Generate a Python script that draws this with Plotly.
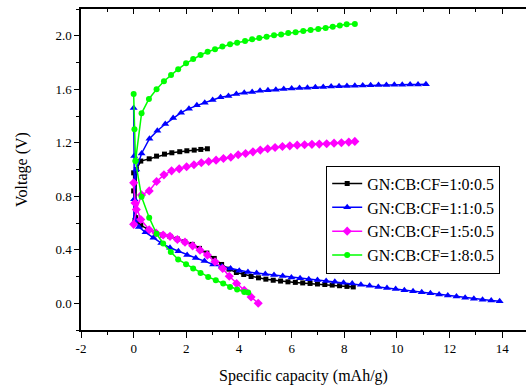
import plotly.graph_objects as go

# ---------------- data ----------------
names = ["GN:CB:CF=1:0:0.5", "GN:CB:CF=1:1:0.5", "GN:CB:CF=1:5:0.5", "GN:CB:CF=1:8:0.5"]

black_dis_x = [0, 0, 0.05, 0.27, 0.55, 0.83, 1.1, 1.38, 1.66, 1.94, 2.22, 2.5, 2.78, 3.06, 3.34, 3.62,
               3.9, 4.18, 4.46, 4.74, 5.02, 5.3, 5.58, 5.86, 6.14, 6.42, 6.7, 6.98, 7.26, 7.54, 7.82, 8.1, 8.34]
black_dis_y = [0.975, 0.84, 0.62, 0.585, 0.55, 0.525, 0.51, 0.5, 0.48, 0.46, 0.44, 0.41, 0.375, 0.335, 0.29,
               0.255, 0.23, 0.215, 0.2, 0.19, 0.18, 0.172, 0.166, 0.16, 0.156, 0.152, 0.148, 0.144, 0.14,
               0.136, 0.131, 0.126, 0.122]
black_chg_x = [0.08, 0.1, 0.27, 0.59, 0.87, 1.17, 1.45, 1.75, 2.02, 2.3, 2.55, 2.8]
black_chg_y = [0.64, 1.0, 1.063, 1.08, 1.1, 1.115, 1.125, 1.133, 1.14, 1.145, 1.15, 1.155]

blue_dis_x = [0, 0.02, 0.03, 0.08, 0.2, 0.45, 0.75, 1.05, 1.38, 1.7, 2.03, 2.36, 2.69, 3.02, 3.35, 3.68,
              4.01, 4.34, 4.67, 5.0, 5.33, 5.66, 5.99, 6.32, 6.65, 6.98, 7.31, 7.64, 7.97, 8.3, 8.63, 8.96,
              9.29, 9.62, 9.95, 10.28, 10.61, 10.94, 11.27, 11.6, 11.93, 12.26, 12.59, 12.92, 13.25, 13.58, 13.9]
blue_dis_y = [1.46, 1.1, 0.777, 0.62, 0.57, 0.53, 0.49, 0.45, 0.415, 0.388, 0.36, 0.338, 0.315, 0.29, 0.274,
              0.26, 0.243, 0.233, 0.226, 0.219, 0.211, 0.203, 0.193, 0.187, 0.18, 0.174, 0.167, 0.16, 0.154,
              0.147, 0.139, 0.131, 0.122, 0.114, 0.106, 0.098, 0.09, 0.082, 0.074, 0.066, 0.058, 0.05,
              0.041, 0.033, 0.026, 0.02, 0.015]
blue_chg_x = [0, 0.02, 0.1, 0.3, 0.6, 0.9, 1.2, 1.5, 1.8, 2.1, 2.4, 2.7, 3.0, 3.3, 3.6, 3.9, 4.2, 4.5, 4.8,
              5.1, 5.4, 5.7, 6.0, 6.3, 6.6, 6.9, 7.2, 7.5, 7.8, 8.1, 8.4, 8.7, 9.0, 9.3, 9.6, 9.9, 10.2,
              10.5, 10.8, 11.1]
blue_chg_y = [0.6, 0.777, 1.0, 1.12, 1.23, 1.29, 1.34, 1.385, 1.425, 1.455, 1.48, 1.5, 1.52, 1.54, 1.55,
              1.565, 1.573, 1.58, 1.588, 1.592, 1.597, 1.601, 1.605, 1.609, 1.612, 1.615, 1.617, 1.62,
              1.622, 1.624, 1.626, 1.628, 1.63, 1.631, 1.632, 1.633, 1.634, 1.635, 1.636, 1.637]

pink_dis_x = [0, 0.05, 0.27, 0.59, 0.85, 1.12, 1.38, 1.66, 1.95, 2.24, 2.52, 2.8, 3.09, 3.38, 3.63, 3.91,
              4.2, 4.46, 4.73]
pink_dis_y = [0.9, 0.75, 0.626, 0.55, 0.525, 0.51, 0.5, 0.477, 0.457, 0.429, 0.397, 0.36, 0.31, 0.26,
              0.202, 0.147, 0.097, 0.047, 0.0]
pink_chg_x = [0, 0.1, 0.3, 0.59, 0.87, 1.15, 1.44, 1.73, 2.01, 2.29, 2.57, 2.85, 3.13, 3.41, 3.69, 3.97,
              4.25, 4.53, 4.81, 5.09, 5.37, 5.65, 5.93, 6.21, 6.49, 6.77, 7.05, 7.33, 7.61, 7.89, 8.17, 8.4]
pink_chg_y = [0.59, 0.7, 0.81, 0.84, 0.91, 0.96, 0.99, 1.005, 1.02, 1.035, 1.05, 1.06, 1.07, 1.082, 1.092,
              1.11, 1.12, 1.132, 1.145, 1.155, 1.164, 1.172, 1.177, 1.182, 1.185, 1.188, 1.19, 1.193,
              1.197, 1.2, 1.205, 1.21]

green_dis_x = [0, 0.03, 0.07, 0.3, 0.59, 0.87, 1.12, 1.41, 1.69, 1.99, 2.26, 2.54, 2.83, 3.12, 3.4, 3.66,
               3.93, 4.2, 4.35]
green_dis_y = [1.564, 1.3, 1.063, 0.796, 0.64, 0.52, 0.447, 0.384, 0.327, 0.292, 0.26, 0.227, 0.197,
               0.172, 0.147, 0.122, 0.103, 0.085, 0.08]
green_chg_x = [0.07, 0.3, 0.58, 0.87, 1.15, 1.42, 1.69, 1.99, 2.26, 2.54, 2.81, 3.09, 3.37, 3.66, 3.93,
               4.23, 4.5, 4.77, 5.05, 5.33, 5.6, 5.87, 6.15, 6.44, 6.72, 7.01, 7.29, 7.56, 7.83, 8.09, 8.4]
green_chg_y = [1.063, 1.42, 1.527, 1.6, 1.66, 1.707, 1.75, 1.794, 1.826, 1.856, 1.88, 1.9, 1.92, 1.936,
               1.948, 1.96, 1.974, 1.984, 1.993, 2.004, 2.01, 2.02, 2.026, 2.036, 2.043, 2.05, 2.058,
               2.068, 2.076, 2.086, 2.088]

x_tick_vals = [-2, 0, 2, 4, 6, 8, 10, 12, 14]
x_tick_text = ["-2", "0", "2", "4", "6", "8", "10", "12", "14"]
y_tick_vals = [0.0, 0.4, 0.8, 1.2, 1.6, 2.0]
y_tick_text = ["0.0", "0.4", "0.8", "1.2", "1.6", "2.0"]

# ---------------- styles ----------------
series = [
    (black_dis_x, black_dis_y, black_chg_x, black_chg_y, "#000000", "square", 5),
    (blue_dis_x, blue_dis_y, blue_chg_x, blue_chg_y, "#0000ff", "triangle-up", 7),
    (pink_dis_x, pink_dis_y, pink_chg_x, pink_chg_y, "#ff00ff", "diamond", 7),
    (green_dis_x, green_dis_y, green_chg_x, green_chg_y, "#00ff00", "circle", 6),
]

FONT = "Liberation Serif"

fig = go.Figure()
for name, (dx, dy, cx, cy, col, sym, sz) in zip(names, series):
    fig.add_trace(go.Scatter(
        x=dx + [None] + cx, y=dy + [None] + cy, name=name,
        mode="lines+markers", connectgaps=False,
        line=dict(color=col, width=1.5),
        marker=dict(color=col, symbol=sym, size=sz, line=dict(width=0)),
    ))

# invisible trace to anchor the top axis
fig.add_trace(go.Scatter(x=[0], y=[0], xaxis="x2", yaxis="y", mode="markers",
                         marker=dict(opacity=0), showlegend=False, hoverinfo="skip"))

fig.update_layout(
    width=526, height=387,
    margin=dict(l=81, r=0, t=9, b=57),
    paper_bgcolor="white", plot_bgcolor="white",
    font=dict(family=FONT, color="black", size=13),
    showlegend=True,
    legend=dict(x=0.551, y=0.512, xanchor="left", yanchor="top",
                bordercolor="black", borderwidth=1, bgcolor="white",
                font=dict(family=FONT, size=16, color="black"),
                tracegroupgap=0, itemwidth=30),
    xaxis=dict(range=[-2, 14.9], tickvals=x_tick_vals, ticktext=x_tick_text,
               showgrid=False, zeroline=False, automargin=False,
               showline=True, linecolor="black", linewidth=1.5,
               ticks="outside", ticklen=6, tickwidth=1.2, tickcolor="black",
               minor=dict(dtick=1, tick0=0, ticks="outside", ticklen=3, tickwidth=1.2, tickcolor="black"),
               tickfont=dict(family=FONT, size=13, color="black"),
               title=dict(text="Specific capacity (mAh/g)", font=dict(family=FONT, size=16), standoff=14)),
    xaxis2=dict(overlaying="x", matches="x", side="top", showgrid=False, zeroline=False,
                showline=True, linecolor="black", linewidth=1.5, automargin=False,
                tickvals=x_tick_vals, showticklabels=False,
                ticks="inside", ticklen=5, tickwidth=1.2, tickcolor="black",
                minor=dict(dtick=1, tick0=0, ticks="inside", ticklen=3, tickwidth=1.2, tickcolor="black")),
    yaxis=dict(range=[-0.2, 2.2], tickvals=y_tick_vals, ticktext=y_tick_text,
               showgrid=False, zeroline=False, automargin=False,
               showline=True, linecolor="black", linewidth=1.5,
               ticks="outside", ticklen=5, tickwidth=1.2, tickcolor="black",
               minor=dict(dtick=0.2, tick0=0, ticks="outside", ticklen=3, tickwidth=1.2, tickcolor="black"),
               tickfont=dict(family=FONT, size=13, color="black"),
               title=dict(text="Voltage (V)", font=dict(family=FONT, size=16), standoff=24)),
)

fig.write_html("out.html")
